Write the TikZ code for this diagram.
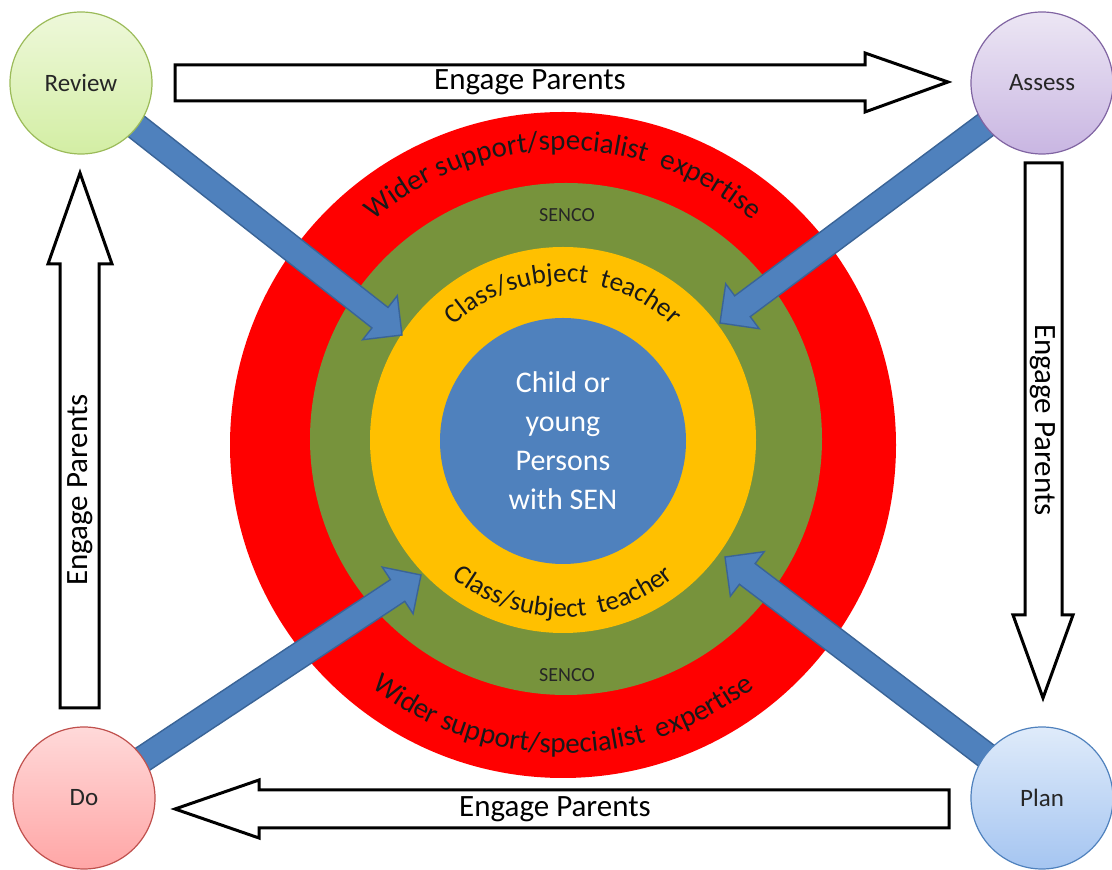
\documentclass[tikz,border=0pt]{standalone}
\usepackage{fontspec}
\setmainfont{Carlito}
\usetikzlibrary{calc,decorations.text}
\definecolor{ringred}{HTML}{FF0000}
\definecolor{ringgreen}{HTML}{77933C}
\definecolor{ringyellow}{HTML}{FFC000}
\definecolor{coreblue}{HTML}{4F81BD}
\definecolor{arrowedge}{HTML}{3A6497}
\definecolor{rvtop}{HTML}{EEF8DA}\definecolor{rvbot}{HTML}{D3EEA4}\definecolor{rvedge}{HTML}{9BBB59}
\definecolor{astop}{HTML}{ECE6F4}\definecolor{asbot}{HTML}{C9B6E2}\definecolor{asedge}{HTML}{8064A2}
\definecolor{dotop}{HTML}{FFD9D9}\definecolor{dobot}{HTML}{FFA6A6}\definecolor{doedge}{HTML}{C0504D}
\definecolor{pltop}{HTML}{DFEBFA}\definecolor{plbot}{HTML}{A5C5F1}\definecolor{pledge}{HTML}{4F81BD}
\pgfdeclarelayer{back}
\pgfsetlayers{back,main}
\newcommand\pointerarrow[2]{%
  \filldraw[bluearrow]
    ($(#1)!13pt!90:(#2)$) --
    ($($(#2)!28pt!(#1)$)!13pt!-90:(#1)$) --
    ($($(#2)!28pt!(#1)$)!28pt!-90:(#1)$) --
    (#2) --
    ($($(#2)!28pt!(#1)$)!28pt!90:(#1)$) --
    ($($(#2)!28pt!(#1)$)!13pt!90:(#1)$) --
    ($(#1)!13pt!-90:(#2)$) -- cycle;}
\begin{document}
\begin{tikzpicture}[x=1pt,y=1pt,
  smallc/.style={circle,inner sep=0pt,minimum size=142pt,line width=1.2pt,
     font=\fontsize{25}{25}\selectfont,text=black!85},
  bluearrow/.style={fill=coreblue,draw=arrowedge,line width=1.4pt,line join=miter},
  blockarrow/.style={fill=white,draw=black,line width=3pt,line join=miter},
  engage/.style={font=\fontsize{31}{31}\selectfont,inner sep=0pt},
  senco/.style={font=\fontsize{20}{20}\selectfont,text=black!85,inner sep=0pt},
  ringtext/.style={decorate,decoration={text along path,text align=center,
     text color=black!90}}]
\useasboundingbox (0,0) rectangle (1112,870);

% small stage circles
\node[smallc,top color=rvtop,bottom color=rvbot,draw=rvedge] (review) at (81,787) {Review};
\node[smallc,top color=astop,bottom color=asbot,draw=asedge] (assess) at (1042,787) {Assess};
\node[smallc,top color=dotop,bottom color=dobot,draw=doedge] (do) at (84,72) {Do};
\node[smallc,top color=pltop,bottom color=plbot,draw=pledge] (plan) at (1042,72) {Plan};

\begin{pgfonlayer}{back}
% rings
\fill[ringred] (563,425) circle[radius=333];
\fill[ringgreen] (566,431) circle[radius=256];
\fill[ringyellow] (563,430) circle[radius=193];
\node[circle,fill=coreblue,minimum size=246pt,inner sep=0pt,text=white,
  align=center,font=\fontsize{30}{39}\selectfont] (core) at (563,429)
  {Child or\\young\\Persons\\with SEN};

\coordinate (c) at (563,430);
% ring labels
\path[ringtext,decoration={text={|\fontsize{27}{27}\selectfont|Class/subject {\ }teacher}}]
  ($(c)+(136:158)$) arc[start angle=136,end angle=44,radius=158];
\path[ringtext,decoration={text={|\fontsize{27}{27}\selectfont|Class/subject {\ }teacher}}]
  ($(c)+(213:177)$) arc[start angle=213,end angle=327,radius=177];
\path[ringtext,decoration={text={|\fontsize{29}{29}\selectfont|Wider support/specialist {\ }expertise}}]
  ($(c)+(143:290)$) arc[start angle=143,end angle=37,radius=290];
\path[ringtext,decoration={text={|\fontsize{29}{29}\selectfont|Wider support/specialist {\ }expertise}}]
  ($(c)+(217:313)$) arc[start angle=217,end angle=323,radius=313];
\node[senco] (sencotop) at (567,655) {SENCO};
\node[senco] (sencobot) at (567,195) {SENCO};

% blue pointer arrows
\coordinate (tipul) at (402,535);
\coordinate (tipur) at (720,547);
\coordinate (tipll) at (421,295);
\coordinate (tiplr) at (725,313);
\pointerarrow{review.center}{tipul}
\pointerarrow{assess.center}{tipur}
\pointerarrow{do.center}{tipll}
\pointerarrow{plan.center}{tiplr}
\end{pgfonlayer}

% block arrows (Engage Parents)
\draw[blockarrow] (175,805) -- (865,805) -- (865,817) -- (948,788) -- (865,758)
  -- (865,769) -- (175,769) -- cycle;
\node[engage] (engtop) at (530,788) {Engage Parents};

\draw[blockarrow] (1025,707) -- (1025,255) -- (1013,255) -- (1043,172) -- (1073,255)
  -- (1062,255) -- (1062,707) -- cycle;
\node[engage,rotate=-90] (engright) at (1043,450) {Engage Parents};

\draw[blockarrow] (949,80) -- (259,80) -- (259,90) -- (175,61) -- (259,32)
  -- (259,42) -- (949,42) -- cycle;
\node[engage] (engbot) at (555,61) {Engage Parents};

\draw[blockarrow] (60,162) -- (60,606) -- (48,606) -- (80,697) -- (112,606)
  -- (99,606) -- (99,162) -- cycle;
\node[engage,rotate=90] (engleft) at (80,380) {Engage Parents};
\end{tikzpicture}
\end{document}
